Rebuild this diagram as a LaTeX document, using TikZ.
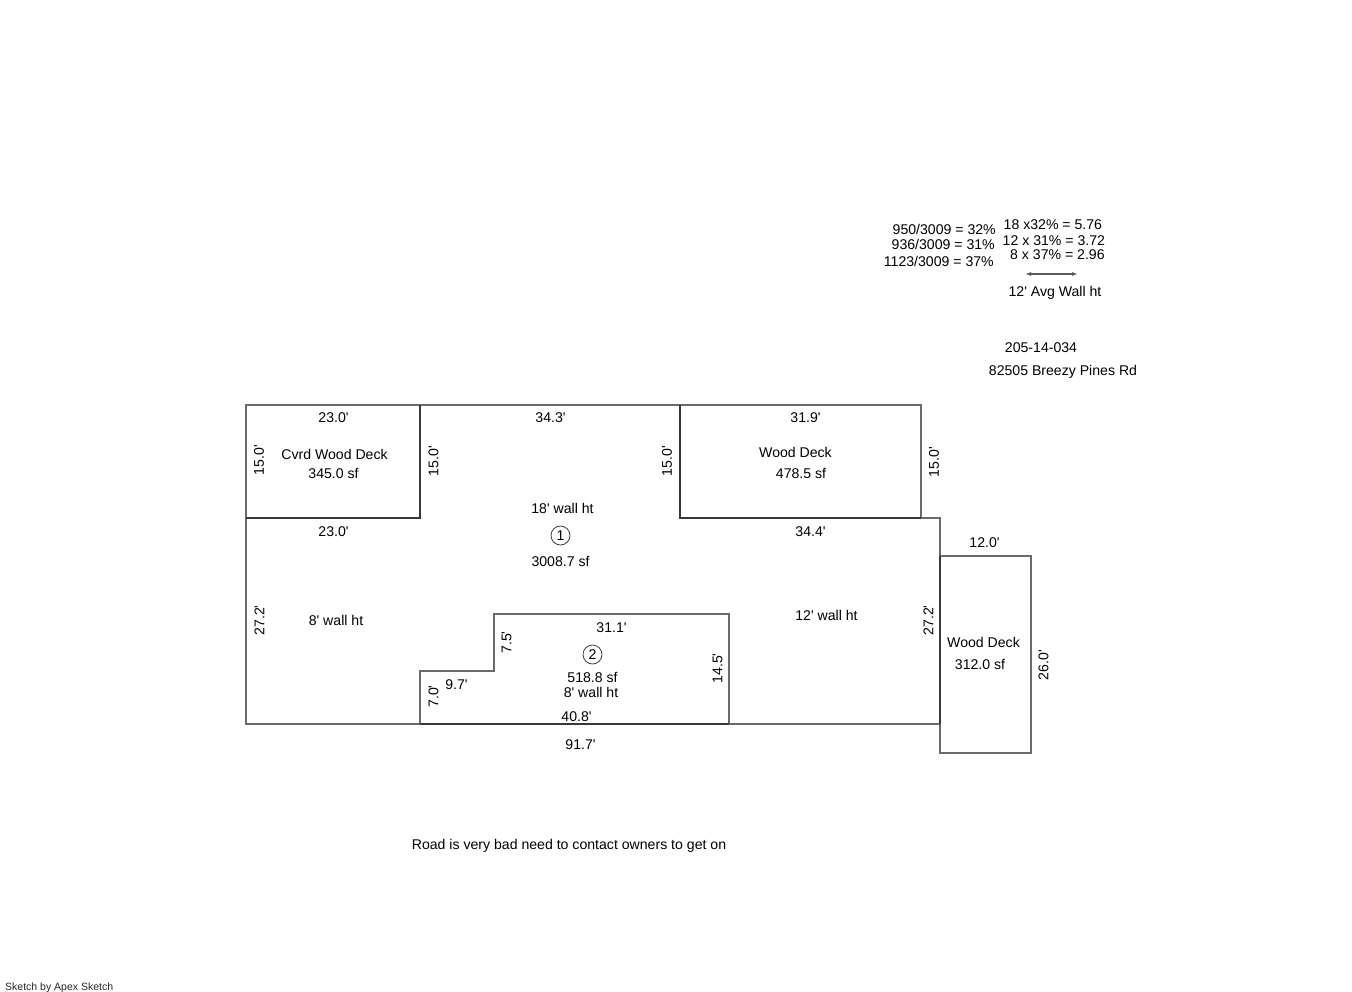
\documentclass[tikz,border=0pt]{standalone}
\usepackage{fontspec}
\setmainfont{Liberation Sans}[Ligatures=TeXOff]
\usetikzlibrary{arrows.meta}
\tikzset{
 wall/.style={draw=black!58,line width=1.2pt},
 walld/.style={draw=black!78,line width=1.25pt},
 lbl/.style={font=\fontsize{14.1}{16}\selectfont,inner sep=0pt,text=black},
 lblv/.style={lbl,rotate=90},
 tagc/.style={circle,draw=black!75,line width=0.8pt,minimum size=19pt,inner sep=0pt,font=\fontsize{14.1}{16}\selectfont},
}
\begin{document}
\begin{tikzpicture}[x=1pt,y=-1pt]
\useasboundingbox (0,0) rectangle (1352,992);
% outer
\draw[wall] (246,405) -- (921,405) -- (921,518) -- (940,518) -- (940,724) -- (246,724) -- cycle;
% decks
\draw[walld] (246,518) -- (420,518) -- (420,405);
\draw[walld] (680,405) -- (680,518) -- (921,518);
\draw[wall] (940,556) -- (1031,556) -- (1031,753) -- (940,753) -- (940,724);
\draw[walld] (940,556) -- (940,724);
% area 2
\draw[wall] (420,724) -- (420,671) -- (494,671) -- (494,614) -- (729,614) -- (729,724);
\draw[walld] (420,724) -- (729,724);
% labels
\node[lbl] (a1) at (333.5,417.5) {23.0'};
\node[lbl] (a2) at (550.5,417.5) {34.3'};
\node[lbl] (a3) at (805.5,417.5) {31.9'};
\node[lblv] (a4) at (259,460) {15.0'};
\node[lblv] (a5) at (433.5,461) {15.0'};
\node[lblv] (a6) at (667,461) {15.0'};
\node[lblv] (a7) at (934,462) {15.0'};
\node[lbl] (b1) at (334.5,454) {Cvrd Wood Deck};
\node[lbl] (b2) at (333.5,473.5) {345.0 sf};
\node[lbl] (b3) at (795.5,452) {Wood Deck};
\node[lbl] (b4) at (801,473.5) {478.5 sf};
\node[lbl] (c1) at (562.5,508) {18' wall ht};
\node[tagc] (c2) at (560.5,535.5) {1};
\node[lbl] (c3) at (560.5,561) {3008.7 sf};
\node[lbl] (d1) at (333.5,531.5) {23.0'};
\node[lbl] (d2) at (810.5,531.5) {34.4'};
\node[lbl] (d3) at (984.5,542.5) {12.0'};
\node[lblv] (d4) at (259.5,620.5) {27.2'};
\node[lblv] (d5) at (928.5,620.5) {27.2'};
\node[lbl] (d6) at (336,620.5) {8' wall ht};
\node[lbl] (d7) at (826.5,615.5) {12' wall ht};
\node[lbl] (e1) at (611.5,627.5) {31.1'};
\node[lblv] (e2) at (506.5,642.5) {7.5'};
\node[tagc] (e3) at (592.5,654.5) {2};
\node[lbl] (e4) at (592.5,677.5) {518.8 sf};
\node[lbl] (e5) at (591,692) {8' wall ht};
\node[lbl] (e6) at (456.5,684.5) {9.7'};
\node[lblv] (e7) at (433.5,696.5) {7.0'};
\node[lblv] (e8) at (717.5,668.5) {14.5'};
\node[lbl] (e9) at (576.5,716.5) {40.8'};
\node[lbl] (f1) at (580.5,744.5) {91.7'};
\node[lbl] (f2) at (983.5,642.5) {Wood Deck};
\node[lbl] (f3) at (980,664) {312.0 sf};
\node[lblv] (f4) at (1043.5,665) {26.0'};
\node[lbl,anchor=east] (g1) at (996,229) {950/3009 = 32\%};
\node[lbl,anchor=east] (g2) at (995,244) {936/3009 = 31\%};
\node[lbl,anchor=east] (g3) at (994,261) {1123/3009 = 37\%};
\node[lbl,anchor=west] (h1) at (1003.5,224.5) {18 x32\% = 5.76};
\node[lbl,anchor=west] (h2) at (1002.5,240.5) {12 x 31\% = 3.72};
\node[lbl,anchor=west] (h3) at (1010,254.5) {8 x 37\% = 2.96};
\coordinate (ar1) at (1025,274);
\coordinate (ar2) at (1078,274);
\draw[black!65,line width=1.2pt,{Latex[length=6pt,width=4pt]}-{Latex[length=6pt,width=4pt]}] (ar1) -- (ar2);
\node[lbl] (i1) at (1055,293) {12' Avg Wall ht};
\node[lbl] (j1) at (1041,347.5) {205-14-034};
\node[lbl] (j2) at (1063,372) {82505 Breezy Pines Rd};
\node[lbl] (k1) at (569,846) {Road is very bad need to contact owners to get on};
\node[inner sep=0pt,anchor=west,font=\fontsize{10.5}{13}\selectfont,text=black!85] (k2) at (5,988) {Sketch by Apex Sketch};
\end{tikzpicture}
\end{document}
